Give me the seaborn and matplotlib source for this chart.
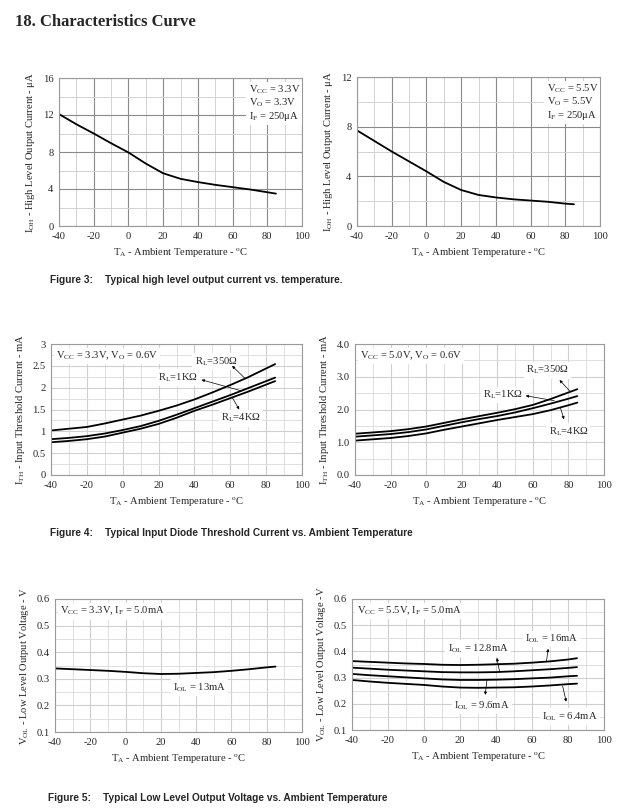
import matplotlib
matplotlib.use('Agg')
import matplotlib.pyplot as plt
import seaborn as sns
import pandas as pd
from matplotlib.ticker import MultipleLocator

sns.set_style('white')
plt.rcParams['font.family'] = ['Liberation Serif', 'DejaVu Serif']
plt.rcParams['mathtext.fontset'] = 'custom'
plt.rcParams['mathtext.rm'] = 'Liberation Serif'
plt.rcParams['mathtext.it'] = 'Liberation Serif:italic'
plt.rcParams['axes.unicode_minus'] = False

# temperatures (deg C)
temps = [-40, -30, -20, -10, 0, 10, 20, 30, 40, 50, 60, 70, 80, 85]

# Figure 3: high level output current (uA)
ioh_33 = [12.1, 11.0, 10.0, 8.95, 7.95, 6.75, 5.7, 5.1, 4.75, 4.45, 4.2, 3.95, 3.65, 3.5]
ioh_55 = [7.7, 6.85, 6.0, 5.2, 4.4, 3.55, 2.9, 2.5, 2.3, 2.15, 2.05, 1.95, 1.8, 1.75]

# Figure 4: input threshold current (mA)
ith_33 = {
    '350': [1.02, 1.06, 1.10, 1.18, 1.27, 1.36, 1.47, 1.59, 1.73, 1.89, 2.06, 2.24, 2.44, 2.54],
    '1K': [0.82, 0.85, 0.89, 0.95, 1.03, 1.12, 1.24, 1.38, 1.53, 1.68, 1.83, 1.99, 2.15, 2.23],
    '4K': [0.75, 0.78, 0.82, 0.88, 0.97, 1.06, 1.17, 1.31, 1.47, 1.61, 1.76, 1.91, 2.07, 2.15],
}
ith_50 = {
    '350': [1.26, 1.30, 1.34, 1.40, 1.48, 1.59, 1.70, 1.80, 1.90, 2.01, 2.14, 2.32, 2.52, 2.62],
    '1K': [1.17, 1.21, 1.25, 1.31, 1.39, 1.50, 1.61, 1.71, 1.80, 1.91, 2.04, 2.18, 2.33, 2.41],
    '4K': [1.05, 1.09, 1.13, 1.19, 1.27, 1.38, 1.48, 1.58, 1.68, 1.77, 1.86, 1.98, 2.13, 2.21],
}

# Figure 5: low level output voltage (V)
vol_33 = [0.339, 0.336, 0.333, 0.330, 0.326, 0.321, 0.318, 0.319, 0.322, 0.325, 0.330, 0.336, 0.343, 0.346]
vol_55 = {
    '16': [0.363, 0.360, 0.357, 0.354, 0.352, 0.349, 0.348, 0.349, 0.351, 0.353, 0.357, 0.362, 0.369, 0.374],
    '12.8': [0.338, 0.334, 0.330, 0.327, 0.324, 0.321, 0.320, 0.320, 0.321, 0.324, 0.328, 0.332, 0.337, 0.340],
    '9.6': [0.314, 0.309, 0.305, 0.301, 0.297, 0.293, 0.291, 0.291, 0.292, 0.294, 0.297, 0.300, 0.305, 0.307],
    '6.4': [0.291, 0.285, 0.280, 0.276, 0.272, 0.266, 0.262, 0.261, 0.262, 0.263, 0.266, 0.270, 0.275, 0.277],
}

W, H = 634, 811
fig = plt.figure(figsize=(W / 100, H / 100), dpi=100)
fig.patch.set_facecolor('white')

FS = 7.6
XLAB = r'T$_{\mathregular{A}}$ - Ambient Temperature - $^{\mathregular{o}}$C'


def add_ax(x0, y0, x1, y1):
    return fig.add_axes([x0 / W, 1 - y1 / H, (x1 - x0) / W, (y1 - y0) / H])


def style(ax, ylim, ymaj, ymin, ylabel, major_c, minor_c, fmt=None):
    ax.set_xlim(-40, 100)
    ax.set_ylim(*ylim)
    ax.xaxis.set_major_locator(MultipleLocator(20))
    ax.xaxis.set_minor_locator(MultipleLocator(10))
    ax.yaxis.set_major_locator(MultipleLocator(ymaj))
    ax.yaxis.set_minor_locator(MultipleLocator(ymin))
    ax.grid(True, which='major', color=major_c, lw=0.8)
    ax.grid(True, which='minor', color=minor_c, lw=0.7)
    ax.set_axisbelow(True)
    for s in ax.spines.values():
        s.set_color('#9a9a9a')
        s.set_linewidth(0.8)
    ax.tick_params(which='both', length=0, labelsize=FS, pad=4)
    if fmt:
        ax.yaxis.set_major_formatter(fmt)
    ax.set_xlabel(XLAB, fontsize=FS, labelpad=4)
    ax.set_ylabel(ylabel, fontsize=FS, labelpad=4)


def long_df(d):
    rows = []
    for k, v in d.items():
        for t, y in zip(temps, v):
            rows.append({'T': t, 'val': y, 'curve': k})
    return pd.DataFrame(rows)


def draw(ax, d):
    df = long_df(d)
    sns.lineplot(data=df, x='T', y='val', hue='curve', ax=ax,
                 palette=['black'] * len(d), legend=False, lw=1.3)


def arrow(ax, tip, tail):
    ax.annotate('', xy=tip, xytext=tail,
                arrowprops=dict(arrowstyle='-|>', color='black', lw=0.5,
                                mutation_scale=4, shrinkA=0, shrinkB=0))


box = dict(facecolor='white', edgecolor='none', pad=1.5)
CAP = dict(fontsize=7.3, fontweight='bold', family='Liberation Sans', va='center')

# title
fig.text(15 / W, 1 - 22 / H, '18. Characteristics Curve', fontsize=12,
         fontweight='bold', va='center', ha='left')

# ---------- Figure 3 ----------
ax1 = add_ax(59, 78, 302, 226)
draw(ax1, {'3.3': ioh_33})
style(ax1, (0, 16), 4, 2, r'I$_{\mathregular{OH}}$ - High Level Output Current - μA', '#8a8a8a', '#d2d2d2')
ax1.text(0.78, 0.965, 'V$_{\\mathregular{CC}}$ = 3.3V\nV$_{\\mathregular{O}}$ = 3.3V\nI$_{\\mathregular{F}}$ = 250μA',
         transform=ax1.transAxes, fontsize=FS, va='top', ha='left', bbox=box, linespacing=1.1)

ax2 = add_ax(357, 77, 600, 226)
draw(ax2, {'5.5': ioh_55})
style(ax2, (0, 12), 4, 2, r'I$_{\mathregular{OH}}$ - High Level Output Current - μA', '#8a8a8a', '#d2d2d2')
ax2.text(0.78, 0.965, 'V$_{\\mathregular{CC}}$ = 5.5V\nV$_{\\mathregular{O}}$ = 5.5V\nI$_{\\mathregular{F}}$ = 250μA',
         transform=ax2.transAxes, fontsize=FS, va='top', ha='left', bbox=box, linespacing=1.1)

fig.text(50 / W, 1 - 280 / H, 'Figure 3:', **CAP)
fig.text(105 / W, 1 - 280 / H, 'Typical high level output current vs. temperature.', **CAP)

# ---------- Figure 4 ----------
ith_label = r'I$_{\mathregular{TH}}$ - Input Threshold Current - mA'
ax3 = add_ax(51, 344, 302, 475)
draw(ax3, ith_33)
style(ax3, (0, 3), 0.5, 0.25, ith_label, '#cfcfcf', '#dedede',
      fmt=matplotlib.ticker.FuncFormatter(lambda v, p: f'{v:g}'))
ax3.text(0.02, 0.955, 'V$_{\\mathregular{CC}}$ = 3.3V, V$_{\\mathregular{O}}$ = 0.6V',
         transform=ax3.transAxes, fontsize=FS, va='top', ha='left', bbox=box)
ax3.text(52, 2.6, r'R$_{\mathregular{L}}$=350Ω', fontsize=FS, ha='center', va='center', bbox=box)
ax3.text(31, 2.23, r'R$_{\mathregular{L}}$=1KΩ', fontsize=FS, ha='center', va='center', bbox=box)
ax3.text(66, 1.3, r'R$_{\mathregular{L}}$=4KΩ', fontsize=FS, ha='center', va='center', bbox=box)
arrow(ax3, (61, 2.5), (68, 2.22))
arrow(ax3, (44, 2.18), (66, 1.93))
arrow(ax3, (65, 1.5), (61, 1.78))

ax4 = add_ax(355, 344, 604, 475)
draw(ax4, ith_50)
style(ax4, (0, 4), 1, 0.5, ith_label, '#cfcfcf', '#dedede',
      fmt=matplotlib.ticker.FormatStrFormatter('%.1f'))
ax4.text(0.02, 0.955, 'V$_{\\mathregular{CC}}$ = 5.0V, V$_{\\mathregular{O}}$ = 0.6V',
         transform=ax4.transAxes, fontsize=FS, va='top', ha='left', bbox=box)
ax4.text(68, 3.2, r'R$_{\mathregular{L}}$=350Ω', fontsize=FS, ha='center', va='center', bbox=box)
ax4.text(43, 2.44, r'R$_{\mathregular{L}}$=1KΩ', fontsize=FS, ha='center', va='center', bbox=box)
ax4.text(80, 1.32, r'R$_{\mathregular{L}}$=4KΩ', fontsize=FS, ha='center', va='center', bbox=box)
arrow(ax4, (75, 2.9), (81, 2.55))
arrow(ax4, (56, 2.42), (72, 2.27))
arrow(ax4, (77.5, 1.7), (75.5, 2.05))

fig.text(50 / W, 1 - 533 / H, 'Figure 4:', **CAP)
fig.text(105 / W, 1 - 533 / H, 'Typical Input Diode Threshold Current vs. Ambient Temperature', **CAP)

# ---------- Figure 5 ----------
ax5 = add_ax(55, 599, 302, 732)
draw(ax5, {'13': vol_33})
style(ax5, (0.1, 0.6), 0.1, 0.05, r'V$_{\mathregular{OL}}$ - Low Level Output Voltage - V', '#cfcfcf', '#dedede',
      fmt=matplotlib.ticker.FormatStrFormatter('%.1f'))
ax5.text(0.02, 0.955, 'V$_{\\mathregular{CC}}$ = 3.3V, I$_{\\mathregular{F}}$ = 5.0mA',
         transform=ax5.transAxes, fontsize=FS, va='top', ha='left', bbox=box)
ax5.text(42, 0.267, r'I$_{\mathregular{OL}}$ = 13mA', fontsize=FS, ha='center', va='center', bbox=box)

ax6 = add_ax(352, 599, 604, 730)
draw(ax6, vol_55)
style(ax6, (0.1, 0.6), 0.1, 0.05, r'V$_{\mathregular{OL}}$ - Low Level Output Voltage -V', '#cfcfcf', '#dedede',
      fmt=matplotlib.ticker.FormatStrFormatter('%.1f'))
ax6.text(0.02, 0.955, 'V$_{\\mathregular{CC}}$ = 5.5V, I$_{\\mathregular{F}}$ = 5.0mA',
         transform=ax6.transAxes, fontsize=FS, va='top', ha='left', bbox=box)
ax6.text(30, 0.412, r'I$_{\mathregular{OL}}$ = 12.8mA', fontsize=FS, ha='center', va='center', bbox=box)
ax6.text(71, 0.447, r'I$_{\mathregular{OL}}$ = 16mA', fontsize=FS, ha='center', va='center', bbox=box)
ax6.text(32, 0.192, r'I$_{\mathregular{OL}}$ = 9.6mA', fontsize=FS, ha='center', va='center', bbox=box)
ax6.text(81, 0.151, r'I$_{\mathregular{OL}}$ = 6.4mA', fontsize=FS, ha='center', va='center', bbox=box)
arrow(ax6, (40.5, 0.375), (42, 0.322))
arrow(ax6, (69, 0.41), (68, 0.36))
arrow(ax6, (34, 0.234), (35, 0.292))
arrow(ax6, (79, 0.208), (77, 0.268))

fig.text(48 / W, 1 - 798 / H, 'Figure 5:', **CAP)
fig.text(103 / W, 1 - 798 / H, 'Typical Low Level Output Voltage vs. Ambient Temperature', **CAP)

fig.savefig('out.png', dpi=100, facecolor='white')
